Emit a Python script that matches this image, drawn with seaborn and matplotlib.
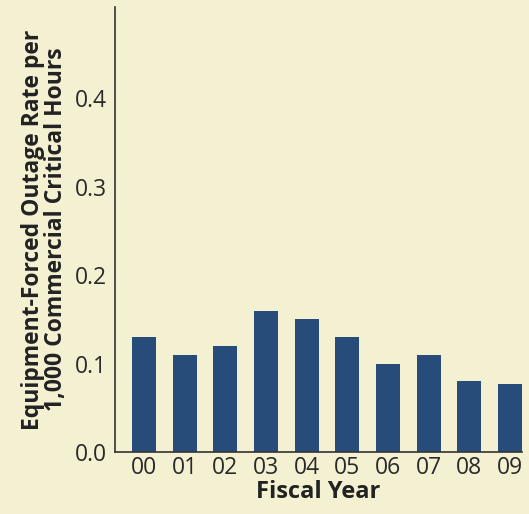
import pandas as pd
import matplotlib.pyplot as plt
import seaborn as sns

# dados
anos = ['00', '01', '02', '03', '04', '05', '06', '07', '08', '09']
taxas = [0.13, 0.11, 0.12, 0.16, 0.15, 0.13, 0.10, 0.11, 0.08, 0.077]
yticks = [0.0, 0.1, 0.2, 0.3, 0.4]

fundo = '#F4F0D2'
cor_barra = '#284C7A'

sns.set_style("white")
plt.rcParams['font.family'] = ['Open Sans', 'DejaVu Sans']

df = pd.DataFrame({'ano': anos, 'taxa': taxas})

fig = plt.figure(figsize=(5.29, 5.14), dpi=100, facecolor=fundo)
ax = fig.add_axes([0.2174, 0.1206, 0.987 - 0.2174, 0.986 - 0.1206])
ax.set_facecolor(fundo)

sns.barplot(data=df, x='ano', y='taxa', color=cor_barra, width=0.59,
            saturation=1, linewidth=0, ax=ax)

ax.set_ylim(0, 0.503)
ax.set_xlim(-0.71, 9.3)
ax.set_yticks(yticks)
ax.set_yticklabels([f'{v:.1f}' for v in yticks])
ax.tick_params(axis='both', length=0, labelsize=16.5, colors='#2a2a2a')
ax.tick_params(axis='y', pad=6)
ax.tick_params(axis='x', pad=3)

for s in ['top', 'right']:
    ax.spines[s].set_visible(False)
for s in ['left', 'bottom']:
    ax.spines[s].set_color('#333333')
    ax.spines[s].set_linewidth(1.2)

ax.set_xlabel('Fiscal Year', fontsize=17, fontweight='bold', color='#222222', labelpad=0)
ax.set_ylabel('Equipment-Forced Outage Rate per\n1,000 Commercial Critical Hours',
              fontsize=16.5, fontweight='bold', color='#222222', labelpad=5,
              linespacing=0.95)

fig.savefig('out.png', dpi=100, facecolor=fundo)
